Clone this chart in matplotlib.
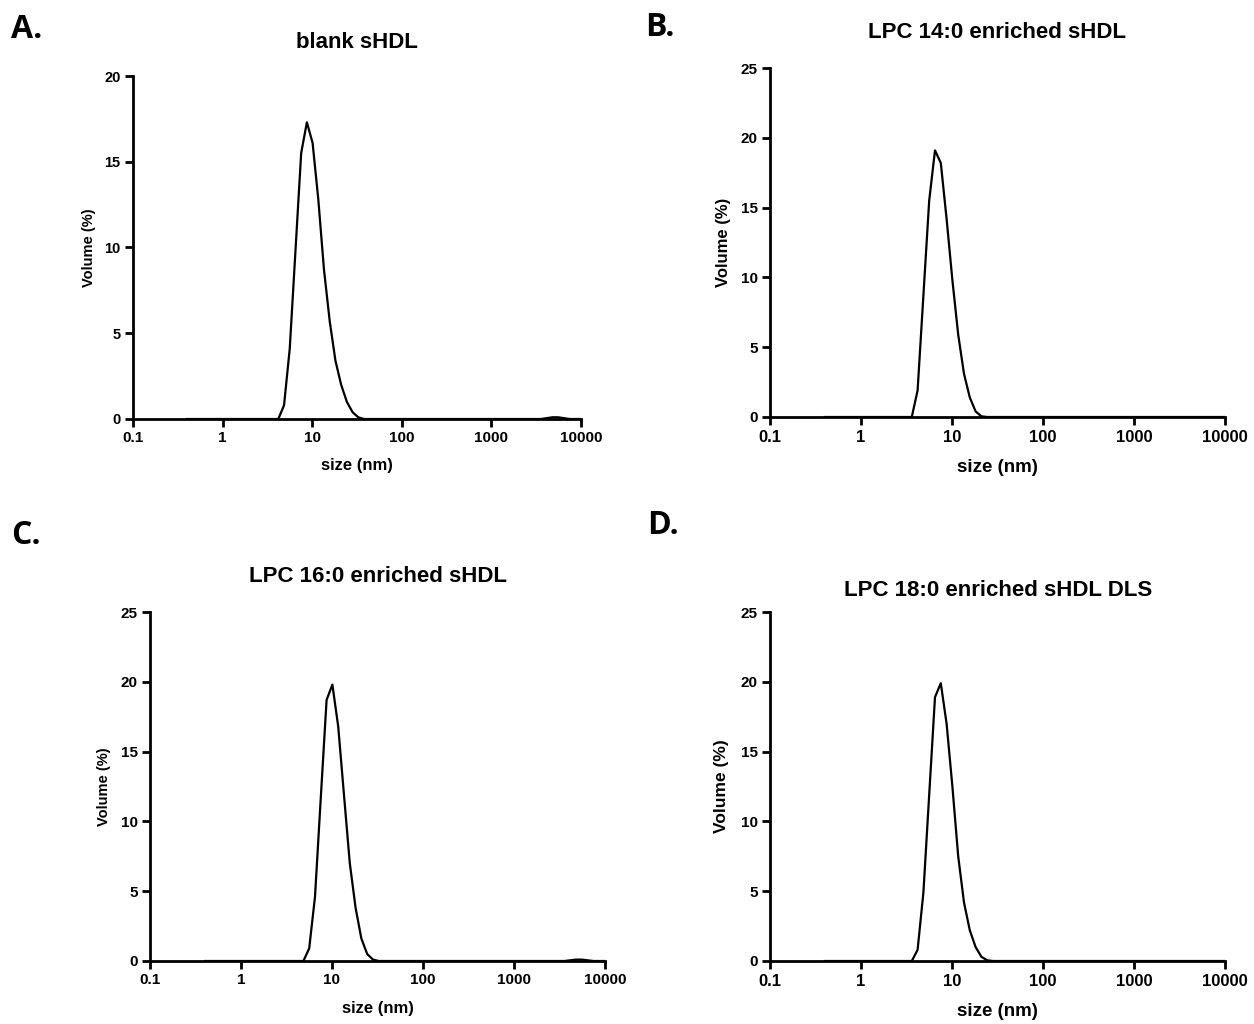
import matplotlib
matplotlib.use('Agg')
import matplotlib.pyplot as plt

# Zetasizer size bins (nm)
sizes = [0.4, 0.4632, 0.5365, 0.6213, 0.7195, 0.8332, 0.9649, 1.117, 1.294, 1.499,
         1.736, 2.010, 2.328, 2.696, 3.122, 3.615, 4.187, 4.849, 5.615, 6.503,
         7.531, 8.721, 10.10, 11.70, 13.54, 15.69, 18.17, 21.04, 24.36, 28.21,
         32.67, 37.84, 43.82, 50.75, 58.77, 68.06, 78.82, 91.28, 105.7, 122.4,
         141.8, 164.2, 190.1, 220.2, 255.0, 295.3, 342.0, 396.1, 458.7, 531.2,
         615.1, 712.4, 825.0, 955.4, 1106, 1281, 1484, 1718, 1990, 2305,
         2669, 3091, 3580, 4145, 4801, 5560, 6439, 7456, 8635, 10000]

# Volume (%) per bin
blank = ([0] * 17
         + [0.8, 4.1, 9.8, 15.5, 17.3, 16.1, 12.8, 8.7, 5.7, 3.4, 2.0, 1.0, 0.4, 0.1]
         + [0] * 32
         + [0.05, 0.1, 0.1, 0.05]
         + [0] * 3)
lpc14 = ([0] * 16
         + [1.9, 8.7, 15.5, 19.1, 18.2, 14.2, 9.8, 5.9, 3.1, 1.4, 0.4, 0.05]
         + [0] * 42)
lpc16 = ([0] * 18
         + [0.9, 4.6, 11.7, 18.7, 19.8, 16.8, 11.9, 7.0, 3.8, 1.6, 0.5, 0.1]
         + [0] * 33
         + [0.05, 0.1, 0.1, 0.05]
         + [0] * 3)
lpc18 = ([0] * 16
         + [0.8, 4.9, 11.9, 18.9, 19.9, 17.0, 12.5, 7.5, 4.2, 2.2, 1.0, 0.3, 0.05]
         + [0] * 41)

xticks = [0.1, 1, 10, 100, 1000, 10000]
xticklabels = ['0.1', '1', '10', '100', '1000', '10000']

plt.rcParams['font.family'] = ['Liberation Sans', 'DejaVu Sans']
plt.rcParams['font.weight'] = 'bold'

fig = plt.figure(figsize=(12.54, 10.24), dpi=100)

W, H = 1254, 1024


def make_axes(left, right, top, bottom):
    return fig.add_axes([left / W, 1 - bottom / H, (right - left) / W, (bottom - top) / H])


panels = [
    # data, box, ymax, title, title pos, letter, letter pos, ylabel x, xlabel y, sizes(tick, ytick, ylab, xlab)
    (blank, (133, 581, 76, 419), 20, 'blank sHDL', (357, 42), 'A.', (11, 30), -0.082, -0.114, (11, 10.5, 10.5, 12)),
    (lpc14, (770, 1225, 68, 417), 25, 'LPC 14:0 enriched sHDL', (997, 33), 'B.', (645, 28), -0.085, -0.12, (12, 11, 12, 13.5)),
    (lpc16, (150, 605, 612, 961), 25, 'LPC 16:0 enriched sHDL', (378, 577), 'C.', (11, 535), -0.085, -0.115, (11, 11, 10.5, 12)),
    (lpc18, (770, 1225, 612, 961), 25, 'LPC 18:0 enriched sHDL DLS', (998, 590), 'D.', (647, 525), -0.09, -0.12, (12, 11, 12.5, 13.5)),
]

for vals, box, ymax, title, tpos, letter, lpos, ylx, xly, fs in panels:
    ax = make_axes(*box)
    ax.plot(sizes, vals, color='black', lw=1.6)
    ax.set_xscale('log')
    ax.set_xlim(0.1, 10000)
    ax.set_ylim(0, ymax)
    ax.set_xticks(xticks)
    ax.set_xticklabels(xticklabels)
    ax.minorticks_off()
    ax.set_yticks(range(0, ymax + 1, 5))
    for s in ['top', 'right']:
        ax.spines[s].set_visible(False)
    for s in ['left', 'bottom']:
        ax.spines[s].set_linewidth(2.0)
    ax.tick_params(axis='both', width=2.0, length=6, pad=3)
    ax.tick_params(axis='x', labelsize=fs[0])
    ax.tick_params(axis='y', labelsize=fs[1])
    ax.set_ylabel('Volume (%)', fontsize=fs[2], fontweight='bold')
    ax.set_xlabel('size (nm)', fontsize=fs[3], fontweight='bold')
    ax.yaxis.set_label_coords(ylx, 0.5)
    ax.xaxis.set_label_coords(0.5, xly)
    fig.text(tpos[0] / W, 1 - tpos[1] / H, title, ha='center', va='center',
             fontsize=16, fontweight='bold')
    fig.text(lpos[0] / W, 1 - lpos[1] / H, letter, ha='left', va='center',
             fontsize=23, fontweight='bold', family=['Open Sans', 'DejaVu Sans'])

fig.savefig('out.png', dpi=100)
